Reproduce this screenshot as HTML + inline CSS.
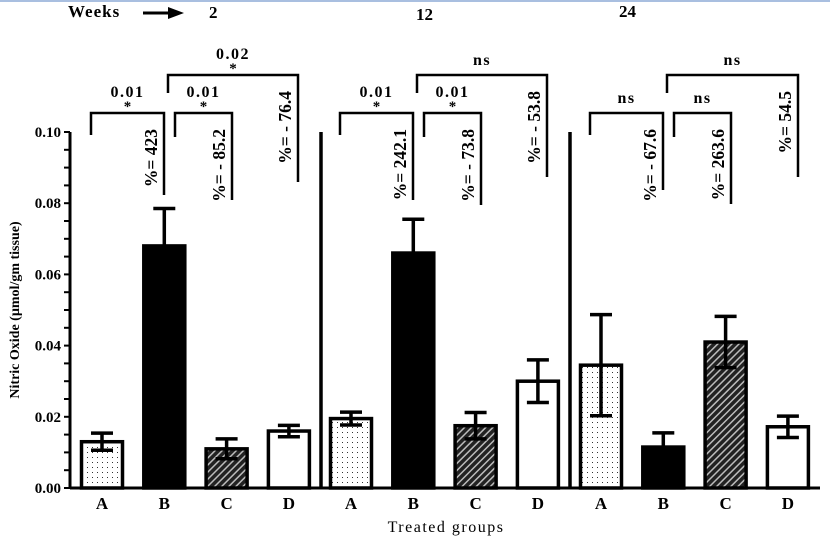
<!DOCTYPE html>
<html><head><meta charset="utf-8"><style>
body{margin:0;background:#fff;}
svg{display:block;font-family:"Liberation Serif",serif;font-weight:bold;}
</style></head><body>
<svg id="c" width="830" height="540">
<rect x="0" y="0" width="830" height="2" fill="#a9bfe0"/>
<text x="68" y="17" font-size="17" letter-spacing="1">Weeks</text>
<g><line x1="143" y1="13" x2="170" y2="13" stroke="#000" stroke-width="3"/><polygon points="168,7 184,13 168,19" fill="#000"/></g>
<text x="209" y="18" font-size="17">2</text>
<text x="416" y="20" font-size="17">12</text>
<text x="619" y="17" font-size="17">24</text>
<text x="446" y="532" font-size="16" font-weight="normal" text-anchor="middle" letter-spacing="1.5">Treated groups</text>
<text transform="translate(19,310) rotate(-90)" font-size="14" text-anchor="middle">Nitric Oxide (µmol/gm tissue)</text>
<defs>
<pattern id="dots" width="5" height="5" patternUnits="userSpaceOnUse"><rect width="5" height="5" fill="#fff"/><rect x="2" y="2" width="1" height="1" fill="#333"/></pattern>
<pattern id="hatch" width="5" height="5" patternUnits="userSpaceOnUse" patternTransform="rotate(45)"><rect width="5" height="5" fill="#222"/><rect x="0" y="0" width="1.5" height="5" fill="#bbb"/></pattern>
</defs>
</svg>
<script>
const categories=["A","B","C","D","A","B","C","D","A","B","C","D"];
const means=[0.013,0.068,0.011,0.016,0.0195,0.066,0.0175,0.030,0.0345,0.0115,0.041,0.0172];
const errs=[0.0024,0.0105,0.0028,0.0016,0.0018,0.0095,0.0037,0.006,0.0142,0.004,0.0072,0.003];
const fills=["url(#dots)","#000","url(#hatch)","#fff","url(#dots)","#000","url(#hatch)","#fff","url(#dots)","#000","url(#hatch)","#fff"];
const yTicks=[0,0.02,0.04,0.06,0.08,0.10];
const yTickLabels=["0.00","0.02","0.04","0.06","0.08","0.10"];
const pLabels=[["0.01","0.01","0.02"],["0.01","0.01","ns"],["ns","ns","ns"]];
const pctLabels=[["%= 423","%= - 85.2","%= - 76.4"],["%= 242.1","%= - 73.8","%= - 53.8"],["%= - 67.6","%= 263.6","%= 54.5"]];
const svg=document.getElementById('c');const NS="http://www.w3.org/2000/svg";
function mk(t,a,p){const e=document.createElementNS(NS,t);for(const k in a)e.setAttribute(k,a[k]);(p||svg).appendChild(e);return e;}
const y=v=>488-v*3560;
const groupStart=[102,351,601],step=62.3;
const x=i=>groupStart[Math.floor(i/4)]+(i%4)*step;
const ax=mk('line',{x1:70,y1:132,x2:70,y2:489,stroke:'#000','stroke-width':3});

for(let v=0;v<=0.1001;v+=0.005){mk('line',{x1:64,x2:70,y1:y(v),y2:y(v),stroke:'#000','stroke-width':2});}
yTicks.forEach((v,i)=>{const t=mk('text',{x:61,y:y(v)+5,'font-size':15,'text-anchor':'end'});t.textContent=yTickLabels[i];
});
const xa=mk('line',{x1:70,y1:488,x2:820,y2:488,stroke:'#000','stroke-width':3});

[321,570].forEach(sx=>{const l=mk('line',{x1:sx,x2:sx,y1:132,y2:488,stroke:'#000','stroke-width':3.5});
});
means.forEach((m,i)=>{const cx=x(i),w=41;
const r=mk('rect',{x:cx-w/2,y:y(m),width:w,height:488-y(m),fill:fills[i],stroke:'#000','stroke-width':3.5});


const g=mk('g',{stroke:'#000','stroke-width':3.5});

mk('line',{x1:cx,x2:cx,y1:y(m+errs[i]),y2:y(m-errs[i])},g);
mk('line',{x1:cx-11,x2:cx+11,y1:y(m+errs[i]),y2:y(m+errs[i])},g);
mk('line',{x1:cx-11,x2:cx+11,y1:y(m-errs[i]),y2:y(m-errs[i])},g);
const t=mk('text',{x:cx,y:509,'font-size':17,'text-anchor':'middle'});t.textContent=categories[i];
});
const br=[[-11,62,113,135],[73,130,113,137],[66,196,75,93]];
const rbot=[[195,200,182],[200,205,177],[190,204,177]];
[0,1,2].forEach(gi=>{const g0=groupStart[gi];
br.forEach((b,bi)=>{const lx=g0+b[0],rx=g0+b[1]+(gi==2&&bi==2?1:0),top=b[2];const rb=rbot[gi][bi];
const p=mk('path',{d:`M${lx},${b[3]} V${top} H${rx} V${rb}`,fill:'none',stroke:'#000','stroke-width':2.5});

const isNs=pLabels[gi][bi]=='ns';
const t=mk('text',{x:(lx+rx)/2,y:top-(isNs?10:16),'font-size':16,'text-anchor':'middle','letter-spacing':1.5});t.textContent=pLabels[gi][bi];

if(!isNs){const s=mk('text',{x:(lx+rx)/2,y:top-2,'font-size':15,'text-anchor':'middle'});s.textContent='*';
}
const pt=mk('text',{transform:`translate(${rx-7},${top+16}) rotate(-90)`,'font-size':17.5,'text-anchor':'end'});pt.textContent=pctLabels[gi][bi];

});});
</script>
</body></html>
